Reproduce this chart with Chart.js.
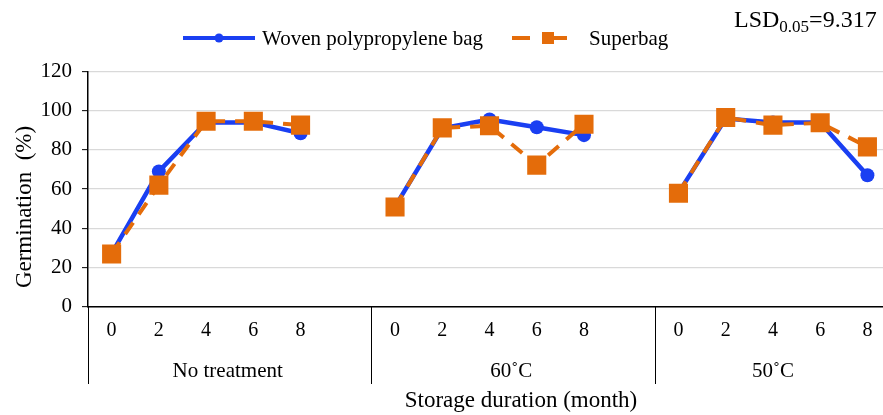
<!DOCTYPE html>
<html><head><meta charset="utf-8">
<script src="https://cdn.jsdelivr.net/npm/chart.js@4"></script>
<style>html,body{margin:0;padding:0;background:#fff;overflow:hidden}#wrap{width:883px;height:415px}</style>
</head><body><div id="wrap"><canvas id="c" width="883" height="415"></canvas></div>
<script>
// ---- data ----
const months = [0, 2, 4, 6, 8];
const groups = ['No treatment', '60˚C', '50˚C'];
const seriesNames = ['Woven polypropylene bag', 'Superbag'];
const woven =    [27, 69, 94, 94, 88.5,   51, 91, 95.5, 91.5, 87.5,   58, 96, 94, 94, 67];
const superbag = [26.8, 62, 94.6, 94.6, 92.6,   50.8, 91.2, 92.3, 72.2, 93.1,   57.8, 96.5, 92.6, 93.8, 81.5];
const yTicks = [0, 20, 40, 60, 80, 100, 120];
const xTitle = 'Storage duration (month)';
const yTitle = 'Germination  (%)';
const lsdLabel = ['LSD', '0.05', '=9.317'];

const BLUE = '#1a3ff2', ORANGE = '#e46c0a';
const SERIF = '"Liberation Serif", "Times New Roman", serif';
const SLOTS = months.length + 1;

function toPoints(vals) {
  const pts = [];
  groups.forEach((g, gi) => {
    months.forEach((m, mi) => pts.push({x: gi * SLOTS + mi, y: vals[gi * months.length + mi]}));
    if (gi < groups.length - 1) pts.push({x: gi * SLOTS + months.length, y: null});
  });
  return pts;
}
const tickPositions = [];
groups.forEach((g, gi) => months.forEach((m, mi) => tickPositions.push(gi * SLOTS + mi)));

const decor = {
  id: 'decor',
  afterDraw(chart) {
    const ctx = chart.ctx, xs = chart.scales.x, ca = chart.chartArea;
    ctx.save();
    // separators
    ctx.strokeStyle = '#000'; ctx.lineWidth = 1;
    for (let gi = 0; gi < groups.length; gi++) {
      const px = Math.round(xs.getPixelForValue(gi * SLOTS - 0.5)) + 0.5;
      ctx.beginPath(); ctx.moveTo(px, ca.bottom); ctx.lineTo(px, 384); ctx.stroke();
    }
    // group labels
    ctx.fillStyle = '#000'; ctx.font = '21px ' + SERIF; ctx.textAlign = 'center'; ctx.textBaseline = 'middle';
    groups.forEach((g, gi) => {
      const left = xs.getPixelForValue(gi * SLOTS - 0.5);
      const right = Math.min(xs.getPixelForValue((gi + 1) * SLOTS - 0.5), 895);
      ctx.fillText(g, (left + right) / 2 - 2, 371);
    });
    // x title
    ctx.font = '23px ' + SERIF;
    ctx.fillText(xTitle, 521, 401);
    // y title
    ctx.save(); ctx.translate(25, 207); ctx.rotate(-Math.PI / 2);
    ctx.font = '23px ' + SERIF; ctx.fillText(yTitle, 0, 0); ctx.restore();
    // legend
    ctx.lineWidth = 4; ctx.strokeStyle = BLUE;
    ctx.beginPath(); ctx.moveTo(183, 38); ctx.lineTo(255, 38); ctx.stroke();
    ctx.fillStyle = BLUE; ctx.beginPath(); ctx.arc(219, 38, 4.5, 0, Math.PI * 2); ctx.fill();
    ctx.fillStyle = '#000'; ctx.textAlign = 'left'; ctx.font = '21px ' + SERIF;
    ctx.fillText(seriesNames[0], 262, 39);
    ctx.strokeStyle = ORANGE; ctx.lineWidth = 4;
    ctx.beginPath(); ctx.moveTo(512, 38); ctx.lineTo(530, 38); ctx.moveTo(553, 38); ctx.lineTo(567, 38); ctx.stroke();
    ctx.fillStyle = ORANGE; ctx.fillRect(542, 32, 12, 12);
    ctx.fillStyle = '#000'; ctx.fillText(seriesNames[1], 589, 39);
    // LSD
    ctx.textBaseline = 'alphabetic';
    ctx.font = '24px ' + SERIF;
    let x = 734;
    ctx.fillText(lsdLabel[0], x, 27); x += ctx.measureText(lsdLabel[0]).width;
    ctx.font = '17px ' + SERIF;
    ctx.fillText(lsdLabel[1], x, 32); x += ctx.measureText(lsdLabel[1]).width;
    ctx.font = '24px ' + SERIF;
    ctx.fillText(lsdLabel[2], x, 27);
    ctx.restore();
  }
};

new Chart(document.getElementById('c'), {
  type: 'line',
  data: {
    datasets: [
      {label: seriesNames[0], data: toPoints(woven), borderColor: BLUE, backgroundColor: BLUE,
       borderWidth: 4.5, pointStyle: 'circle', pointRadius: 7, pointBorderWidth: 0, order: 1, spanGaps: false, clip: 20},
      {label: seriesNames[1], data: toPoints(superbag), borderColor: ORANGE, backgroundColor: ORANGE,
       borderWidth: 4, borderDash: [14, 10], pointStyle: 'rect', pointRadius: 13.5, pointBorderWidth: 0, order: 0, spanGaps: false, clip: 20}
    ]
  },
  options: {
    responsive: false, animation: false, devicePixelRatio: 1,
    layout: {autoPadding: false, padding: {top: 71.5, left: 0, right: 0, bottom: 0}},
    plugins: {legend: {display: false}, tooltip: {enabled: false}},
    scales: {
      x: {
        type: 'linear', min: -0.5, max: 16.33,
        afterBuildTicks: s => { s.ticks = tickPositions.map(v => ({value: v})); },
        afterFit: s => { s.height = 415 - 306.5; s.paddingLeft = 0; s.paddingRight = 0; },
        grid: {display: false, drawTicks: false},
        border: {display: true, color: '#000', width: 1.5},
        ticks: {autoSkip: false, maxRotation: 0, padding: 12, color: '#000', font: {family: SERIF, size: 20},
                callback: v => months[v % SLOTS]}
      },
      y: {
        min: 0, max: 120,
        afterBuildTicks: s => { s.ticks = yTicks.map(v => ({value: v})); },
        afterFit: s => { s.width = 88; },
        grid: {color: '#d9d9d9', lineWidth: 1.3, tickColor: '#000', tickLength: 6, tickWidth: 1},
        border: {display: true, color: '#000', width: 1.5},
        ticks: {padding: 10, color: '#000', font: {family: SERIF, size: 21}}
      }
    }
  },
  plugins: [decor]
});
</script>
</body></html>
